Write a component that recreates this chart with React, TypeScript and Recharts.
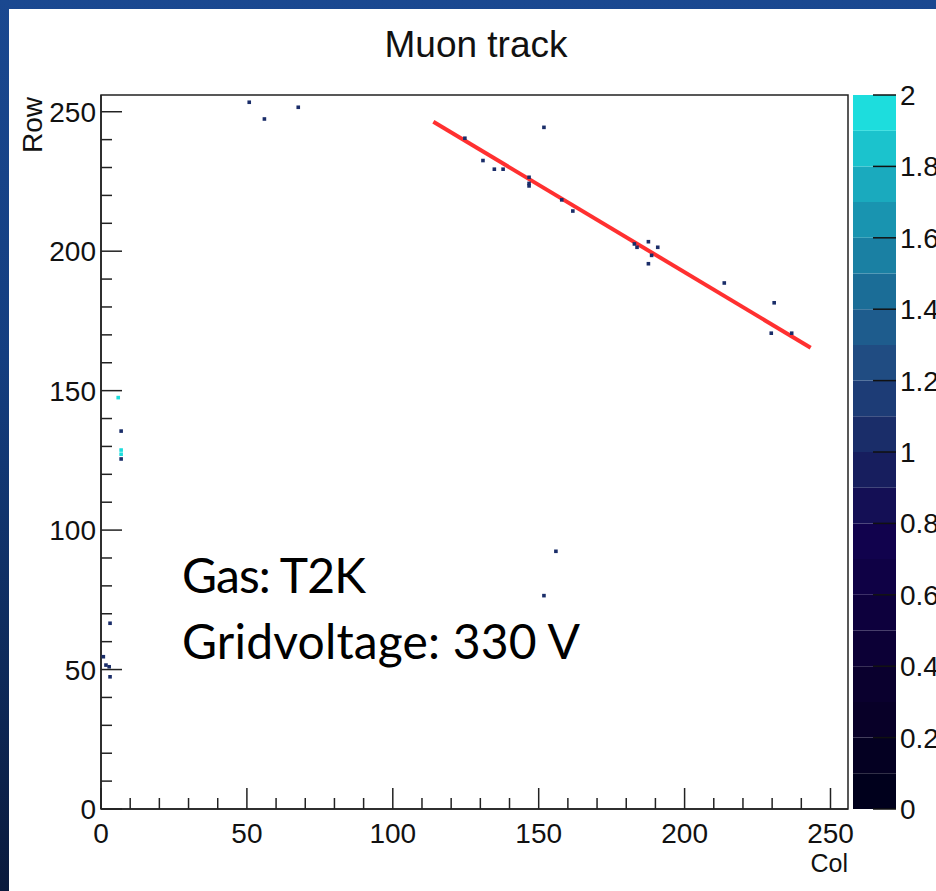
import React from "react";
import {
  ScatterChart,
  Scatter,
  XAxis,
  YAxis,
  ReferenceArea,
  ReferenceLine,
  ComposedChart,
  Bar,
  Cell,
} from "recharts";

// ---- data ----
const hitCol = [
  124.7, 151.8, 130.9, 134.8, 137.8, 146.7, 146.7, 146.7, 157.9, 161.7,
  182.8, 183.7, 187.6, 190.8, 188.7, 187.6, 213.6, 230.7, 229.7, 236.7,
  50.8, 56.0, 67.6,
  5.9, 6.9, 6.9, 6.9, 6.9, 3.1, 0.8, 1.7, 2.8, 3.1,
  155.9, 151.8,
];
const hitRow = [
  240.5, 244.4, 232.5, 229.4, 229.4, 226.5, 224.3, 223.4, 218.4, 214.4,
  202.6, 201.4, 203.4, 201.4, 198.5, 195.5, 188.6, 181.5, 170.6, 170.6,
  253.4, 247.4, 251.6,
  147.5, 135.5, 128.7, 127.2, 125.5, 66.6, 54.6, 51.6, 51.0, 47.4,
  92.4, 76.5,
];
const hitCharge = [
  1, 1, 1, 1, 1, 1, 1, 1, 1, 1,
  1, 1, 1, 1, 1, 1, 1, 1, 1, 1,
  1, 1, 1,
  2, 1, 2, 2, 1, 1, 1, 1, 1, 1,
  1, 1,
];
const trackFit = [
  { col: 113.9, row: 246.4 },
  { col: 243.2, row: 165.4 },
];
const axisTicks = [
  0, 10, 20, 30, 40, 50, 60, 70, 80, 90, 100, 110, 120, 130, 140, 150, 160,
  170, 180, 190, 200, 210, 220, 230, 240, 250,
];
const zTicks = [0, 0.2, 0.4, 0.6, 0.8, 1, 1.2, 1.4, 1.6, 1.8, 2];
const zBandLow = [
  0, 0.1, 0.2, 0.3, 0.4, 0.5, 0.6, 0.7, 0.8, 0.9, 1.0, 1.1, 1.2, 1.3, 1.4,
  1.5, 1.6, 1.7, 1.8, 1.9,
];
const zBandWidth = 0.1;
// ROOT kDeepSea palette, 20 contour colours
const zPalette = [
  "#00001c", "#040022", "#080028", "#0a002e", "#0c0036", "#0d003d",
  "#0f0145", "#11024d", "#140f55", "#171e5e", "#1a2d69", "#1d3c76",
  "#204c82", "#1e5c8d", "#1b6d97", "#1a80a3", "#1994b0", "#1aaabe",
  "#1bc3cd", "#1ddddd",
];

const hits = hitCol.map((c, i) => ({ col: c, row: hitRow[i], q: hitCharge[i] }));
const colorFor = (q: number) => {
  const idx = Math.min(zPalette.length - 1, Math.floor((q / 2) * zPalette.length));
  return zPalette[idx];
};
const zRow: Record<string, any> = { name: "z" };
zBandLow.forEach((_, i) => {
  zRow["b" + i] = zBandWidth;
});
const zData = [zRow];

const FONT = "'Liberation Sans', Arial, Helvetica, sans-serif";
const AX = "#222";
const TICK_FS = 28;

const XTick = (p: any) => {
  const v = p.payload.value;
  const major = v % 50 === 0;
  return (
    <g>
      <line x1={p.x} x2={p.x} y1={p.y} y2={p.y - (major ? 21 : 11)} stroke={AX} strokeWidth={1.5} />
      {major && (
        <text x={p.x} y={p.y + 34} textAnchor="middle" fontSize={TICK_FS} fontFamily={FONT} fill="#111">
          {v}
        </text>
      )}
    </g>
  );
};

const YTick = (p: any) => {
  const v = p.payload.value;
  const major = v % 50 === 0;
  return (
    <g>
      <line x1={p.x} x2={p.x + (major ? 21 : 11)} y1={p.y} y2={p.y} stroke={AX} strokeWidth={1.5} />
      {major && (
        <text x={p.x - 5} y={p.y + 10} textAnchor="end" fontSize={TICK_FS} fontFamily={FONT} fill="#111">
          {v}
        </text>
      )}
    </g>
  );
};

const ZTick = (p: any) => {
  const v = p.payload.value;
  return (
    <g>
      <line x1={p.x - 23} x2={p.x} y1={p.y} y2={p.y} stroke="#111" strokeWidth={1.5} />
      <text x={p.x + 4} y={p.y + 10} textAnchor="start" fontSize={TICK_FS} fontFamily={FONT} fill="#111">
        {String(v)}
      </text>
    </g>
  );
};

const HitShape = (p: any) => {
  const s = 3.6;
  return <rect x={p.cx - s / 2} y={p.cy - s / 2} width={s} height={s} fill={p.fill} />;
};

export default function App() {
  return (
    <div
      style={{
        position: "absolute",
        left: 0,
        top: 0,
        width: 936,
        height: 891,
        overflow: "hidden",
        background: "linear-gradient(180deg, #1a4890 0%, #143e80 40%, #0e2a5a 75%, #0a1a3c 100%)",
      }}
    >
      <div style={{ position: "absolute", left: 9, top: 9, right: 0, bottom: 0, background: "#fff" }} />
      <div style={{ position: "absolute", left: 840, top: 0 }}>
        <ComposedChart
          width={96}
          height={891}
          margin={{ top: 95, right: 0, bottom: 82, left: 13 }}
          data={zData}
          barCategoryGap={0}
          barGap={0}
        >
          <XAxis dataKey="name" type="category" hide />
          <YAxis
            type="number"
            orientation="right"
            domain={[0, 2]}
            ticks={zTicks}
            interval={0}
            width={40}
            tickSize={0}
            tickMargin={0}
            axisLine={false}
            tick={ZTick}
            allowDataOverflow
          />
          {zBandLow.map((lv, i) => (
            <Bar key={lv} dataKey={"b" + i} stackId="z" fill={zPalette[i]} isAnimationActive={false} />
          ))}
        </ComposedChart>
      </div>
      <div style={{ position: "absolute", left: 0, top: 0 }}>
        <ScatterChart width={936} height={891} margin={{ top: 95, right: 88, bottom: 32, left: 41 }}>
          <XAxis
            type="number"
            dataKey="col"
            domain={[0, 256]}
            ticks={axisTicks}
            interval={0}
            height={50}
            tickSize={0}
            tickMargin={0}
            axisLine={{ stroke: AX, strokeWidth: 1.5 }}
            tick={XTick}
            allowDataOverflow
          />
          <YAxis
            type="number"
            dataKey="row"
            domain={[0, 256]}
            ticks={axisTicks}
            interval={0}
            width={60}
            tickSize={0}
            tickMargin={0}
            axisLine={{ stroke: AX, strokeWidth: 1.5 }}
            tick={YTick}
            allowDataOverflow
          />
          <ReferenceArea
            x1={0}
            x2={256}
            y1={0}
            y2={256}
            fill="none"
            fillOpacity={0}
            stroke={AX}
            strokeWidth={1.5}
            ifOverflow="visible"
          />
          <Scatter data={hits} shape={HitShape} isAnimationActive={false}>
            {hits.map((h, i) => (
              <Cell key={i} fill={colorFor(h.q)} />
            ))}
          </Scatter>
          <ReferenceLine
            segment={[
              { x: trackFit[0].col, y: trackFit[0].row },
              { x: trackFit[1].col, y: trackFit[1].row },
            ]}
            stroke="#ff3030"
            strokeWidth={4}
            ifOverflow="visible"
          />
        </ScatterChart>
      </div>
      <svg
        width={936}
        height={891}
        style={{ position: "absolute", left: 0, top: 0, pointerEvents: "none", overflow: "visible" }}
      >
        <text x={476} y={57} textAnchor="middle" fontSize={37} fontFamily={FONT} fill="#111">
          Muon track
        </text>
        <text
          x={42}
          y={97}
          transform="rotate(-90 42 97)"
          textAnchor="end"
          fontSize={28}
          fontFamily={FONT}
          fill="#111"
        >
          Row
        </text>
        <text x={848} y={872} textAnchor="end" fontSize={25} fontFamily={FONT} fill="#111">
          Col
        </text>
        <text
          x={182}
          y={593}
          fontSize={48}
          textLength={184}
          lengthAdjust="spacing"
          fontFamily="Lato, 'Open Sans', sans-serif"
          fill="#000"
        >
          Gas: T2K
        </text>
        <text
          x={182}
          y={659}
          fontSize={48}
          textLength={398}
          lengthAdjust="spacing"
          fontFamily="Lato, 'Open Sans', sans-serif"
          fill="#000"
        >
          Gridvoltage: 330 V
        </text>
      </svg>
    </div>
  );
}
